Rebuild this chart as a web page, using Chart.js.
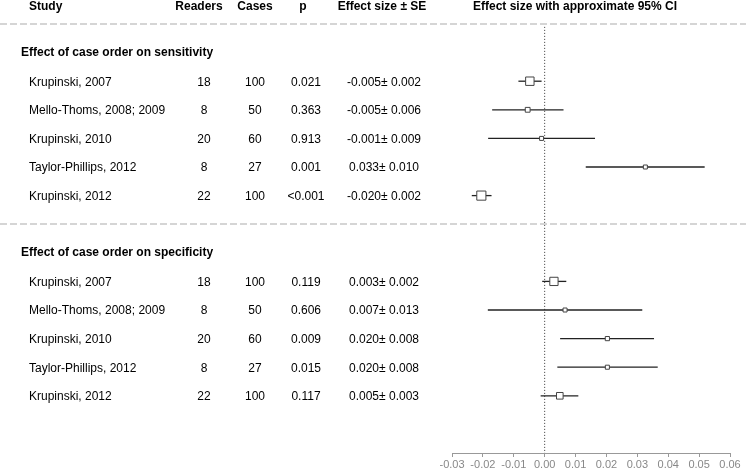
<!DOCTYPE html>
<html>
<head>
<meta charset="utf-8">
<script src="https://cdn.jsdelivr.net/npm/chart.js@4.4.0/dist/chart.umd.min.js"></script>
<style>
  html, body { margin: 0; padding: 0; background: #fff; }
  #forest { display: block; }
</style>
</head>
<body>
<canvas id="forest" width="746" height="469"></canvas>
<script>
const studies = ['Krupinski, 2007', 'Mello-Thoms, 2008; 2009', 'Krupinski, 2010', 'Taylor-Phillips, 2012', 'Krupinski, 2012'];
const readers = [18, 8, 20, 8, 22];
const cases = [100, 50, 60, 27, 100];

const sensP = ['0.021', '0.363', '0.913', '0.001', '<0.001'];
const sensEffect = ['-0.005', '-0.005', '-0.001', '0.033', '-0.020'];
const sensSE = ['0.002', '0.006', '0.009', '0.010', '0.002'];
const sensEst = [-0.0048, -0.0055, -0.0010, 0.0326, -0.0205];
const sensLo = [-0.0085, -0.0170, -0.0183, 0.0133, -0.0236];
const sensHi = [-0.0010, 0.0061, 0.0163, 0.0518, -0.0172];

const specP = ['0.119', '0.606', '0.009', '0.015', '0.117'];
const specEffect = ['0.003', '0.007', '0.020', '0.020', '0.005'];
const specSE = ['0.002', '0.013', '0.008', '0.008', '0.003'];
const specEst = [0.0030, 0.0066, 0.0203, 0.0203, 0.0049];
const specLo = [-0.0008, -0.0184, 0.0050, 0.0041, -0.0013];
const specHi = [0.0070, 0.0316, 0.0354, 0.0366, 0.0109];

const sections = ['Effect of case order on sensitivity', 'Effect of case order on specificity'];
const headers = ['Study', 'Readers', 'Cases', 'p', 'Effect size \u00b1 SE', 'Effect size with approximate 95% CI'];
const xTicks = [-0.03, -0.02, -0.01, 0, 0.01, 0.02, 0.03, 0.04, 0.05, 0.06];

// row slots on the y axis (0 = top separator)
const rows = [];
const addSection = (start, p, effect, se, est, lo, hi) => {
    studies.forEach((name, i) => {
        rows.push({
            slot: start + i,
            name,
            readers: readers[i],
            cases: cases[i],
            p: p[i],
            text: `${effect[i]}\u00b1 ${se[i]}`,
            est: est[i],
            lo: lo[i],
            hi: hi[i],
        });
    });
};
addSection(2, sensP, sensEffect, sensSE, sensEst, sensLo, sensHi);
addSection(9, specP, specEffect, specSE, specEst, specLo, specHi);

// box side shrinks with interval width
const boxRadius = rows.map(r => {
    let side = 0.73 / Math.sqrt(r.hi - r.lo);
    side = Math.max(4, Math.min(10, side));
    return side / Math.SQRT2;
});

const FONT = '"Liberation Sans", Arial, sans-serif';

const tablePlugin = {
    id: 'forestTable',
    afterDraw(chart) {
        const ctx = chart.ctx;
        const y = chart.scales.y;
        ctx.save();

        ctx.strokeStyle = '#c8c8c8';
        ctx.lineWidth = 1.5;
        ctx.setLineDash([7, 3]);
        [0, 7].forEach(s => {
            const py = Math.round(y.getPixelForValue(s));
            ctx.beginPath();
            ctx.moveTo(0, py);
            ctx.lineTo(chart.width, py);
            ctx.stroke();
        });
        ctx.setLineDash([]);

        ctx.fillStyle = '#000';
        ctx.textBaseline = 'middle';
        ctx.font = 'bold 12px ' + FONT;
        const hy = y.getPixelForValue(-0.6);
        ctx.textAlign = 'left';
        ctx.fillText(headers[0], 29, hy);
        ctx.textAlign = 'center';
        ctx.fillText(headers[1], 199, hy);
        ctx.fillText(headers[2], 255, hy);
        ctx.fillText(headers[3], 303, hy);
        ctx.fillText(headers[4], 382, hy);
        ctx.fillText(headers[5], 575, hy);

        ctx.textAlign = 'left';
        ctx.fillText(sections[0], 21, y.getPixelForValue(1));
        ctx.fillText(sections[1], 21, y.getPixelForValue(8));

        ctx.font = '12px ' + FONT;
        rows.forEach(r => {
            const py = y.getPixelForValue(r.slot) + 1;
            ctx.textAlign = 'left';
            ctx.fillText(r.name, 29, py);
            ctx.textAlign = 'center';
            ctx.fillText(String(r.readers), 204, py);
            ctx.fillText(String(r.cases), 255, py);
            ctx.fillText(r.p, 306, py);
            ctx.fillText(r.text, 384, py);
        });
        ctx.restore();
    }
};

const whiskers = rows.map(r => ({
    data: [{ x: r.lo, y: r.slot }, { x: r.hi, y: r.slot }],
    showLine: true,
    borderColor: '#222',
    borderWidth: 1.3,
    pointRadius: 0,
}));

const ctx = document.querySelector('#forest');
chart = new Chart(ctx, {
    type: 'scatter',
    data: {
        datasets: [
            {
                data: rows.map(r => ({ x: r.est, y: r.slot })),
                pointStyle: 'rect',
                pointRadius: boxRadius,
                pointBackgroundColor: '#fff',
                pointBorderColor: '#444',
                pointBorderWidth: 1,
            },
            ...whiskers,
            {
                data: [{ x: 0, y: 0.1 }, { x: 0, y: 15 }],
                showLine: true,
                borderColor: '#333',
                borderWidth: 1,
                borderDash: [1, 2],
                pointRadius: 0,
            },
        ],
    },
    options: {
        responsive: false,
        animation: false,
        layout: {
            padding: { left: 452, right: 16, top: 24, bottom: 0 }
        },
        scales: {
            x: {
                type: 'linear',
                min: xTicks[0],
                max: xTicks[xTicks.length - 1],
                afterBuildTicks: (scale) => {
                    scale.ticks = xTicks.map(v => ({ value: v }));
                },
                afterFit: (scale) => {
                    scale.height = 16;
                },
                ticks: {
                    autoSkip: false,
                    maxRotation: 0,
                    color: '#888',
                    padding: 1,
                    font: { family: FONT, size: 11 },
                    callback: (v) => v.toFixed(2),
                },
                grid: {
                    drawOnChartArea: false,
                    tickLength: 4,
                    color: '#999',
                },
                border: { color: '#999' },
            },
            y: {
                type: 'linear',
                display: false,
                reverse: true,
                min: 0,
                max: 15,
            }
        },
        plugins: {
            legend: { display: false },
            tooltip: { enabled: false },
        }
    },
    plugins: [tablePlugin],
});
</script>
</body>
</html>
